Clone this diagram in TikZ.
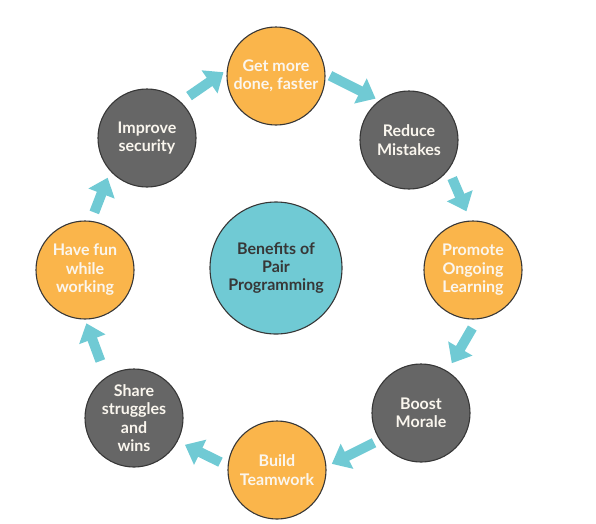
\documentclass[tikz,border=0pt]{standalone}
\usepackage{fontspec}
\setmainfont{Lato}
\definecolor{pporange}{RGB}{250,181,75}
\definecolor{ppgray}{RGB}{102,102,102}
\definecolor{ppteal}{RGB}{112,202,212}
\definecolor{ppline}{RGB}{55,55,55}
\definecolor{pplight}{RGB}{250,246,238}
\usetikzlibrary{arrows.meta}
\tikzset{
  benefit/.style={circle,draw=ppline,line width=1.1pt,minimum size=98pt,inner sep=0pt,
        align=center,text=pplight,font=\fontsize{16}{18.5}\selectfont\bfseries},
  orangebenefit/.style={benefit,fill=pporange},
  graybenefit/.style={benefit,fill=ppgray},
  hub/.style={circle,draw=ppline,line width=1.1pt,fill=ppteal,minimum size=132pt,inner sep=0pt,
        align=center,text=ppline,font=\fontsize{16}{18}\selectfont\bfseries},
  flow/.style={draw=ppteal,line width=10pt,-{Triangle[length=17pt 0 0,width=27pt 0 0]}}
}

\begin{document}
\begin{tikzpicture}[x=1pt,y=-1pt]
  \useasboundingbox (0,0) rectangle (596,523);

  \node[hub] (hub) at (276,268) {Benefits of\\Pair\\Programming};

  \node[orangebenefit] (get) at (276,76)  {Get more\\done, faster};
  \node[graybenefit]   (red) at (409,140) {Reduce\\Mistakes};
  \node[orangebenefit] (pro) at (473,270) {Promote\\Ongoing\\Learning};
  \node[graybenefit]   (boo) at (421,413) {Boost\\Morale};
  \node[orangebenefit] (bui) at (277,470) {Build\\Teamwork};
  \node[graybenefit]   (sha) at (134,418) {Share\\struggles\\and\\wins};
  \node[orangebenefit] (fun) at (85,270)  {Have fun\\while\\working};
  \node[graybenefit]   (imp) at (147,138) {Improve\\security};

  \draw[flow,shorten <=10pt,shorten >=4pt] (imp.47)  -- (get.173);
  \draw[flow,shorten <=5pt,shorten >=4pt]  (get.3)   -- (red.127);
  \draw[flow,shorten <=9pt,shorten >=10pt] (red.-37) -- (pro.93);
  \draw[flow,shorten <=10pt,shorten >=9pt] (pro.-85) -- (boo.58);
  \draw[flow,shorten <=6pt,shorten >=6pt]  (boo.213) -- (bui.4);
  \draw[flow,shorten <=8pt,shorten >=8pt]  (bui.175) -- (sha.-28);
  \draw[flow,shorten <=17pt,shorten >=4pt] (sha.124) -- (fun.-90);
  \draw[flow,shorten <=9pt,shorten >=7pt]  (fun.83)  -- (imp.222);
\end{tikzpicture}
\end{document}
